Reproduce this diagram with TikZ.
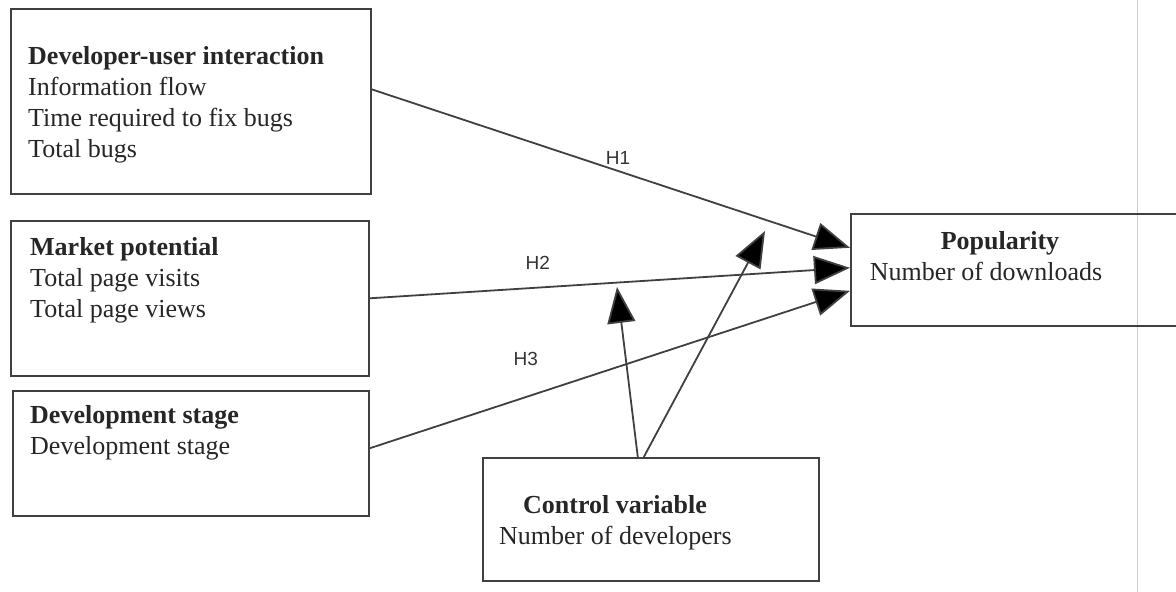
\documentclass[tikz,border=0pt]{standalone}
\usepackage{fontspec}
\setmainfont{Liberation Serif}
\setsansfont{Liberation Sans}
\usetikzlibrary{arrows.meta}
\tikzset{
    var-box/.style = {draw=black!75, line width=1.6pt, rectangle, anchor=north west, inner sep=0pt},
    var-text/.style = {anchor=north west, inner sep=0pt, align=left, text=black!85, font=\fontsize{26}{31}\selectfont},
    hyp-arrow/.style = {draw=black!75, line width=1.8pt, -{Triangle[length=36pt,width=28pt,fill=black]}},
    hyp-label/.style = {font=\sffamily\fontsize{19}{22}\selectfont, text=black!80, inner sep=0pt},
}

\begin{document}
\begin{tikzpicture}[x=1pt,y=-1pt]
\useasboundingbox (0,0) rectangle (1176,592);
\draw[black!20, line width=1pt] (1137,0) -- (1137,592);

\node[var-box, minimum width=360pt, minimum height=185pt] (dui) at (10,8) {};
\node[var-text] (dui-text) at (28,46) {\textbf{Developer-user interaction}\\Information flow\\Time required to fix bugs\\Total bugs};

\node[var-box, minimum width=358pt, minimum height=155pt] (mkt) at (10,220) {};
\node[var-text] (mkt-text) at (30,237) {\textbf{Market potential}\\Total page visits\\Total page views};

\node[var-box, minimum width=356pt, minimum height=125pt] (dev) at (12,390) {};
\node[var-text] (dev-text) at (30,405) {\textbf{Development stage}\\Development stage};

\node[var-box, minimum width=340pt, minimum height=112pt] (pop) at (850,213) {};
\node[var-text, align=center, anchor=north] (pop-text) at (986,231) {\hspace*{28pt}\textbf{Popularity}\\Number of downloads};

\node[var-box, minimum width=336pt, minimum height=123pt] (ctrl) at (482,457) {};
\node[var-text] (ctrl-text) at (499,495) {\hspace*{24pt}\textbf{Control variable}\\Number of developers};

% hypotheses
\draw[hyp-arrow] ([yshift=12pt]dui.east) -- ([yshift=22pt]pop.west)
    node[hyp-label, pos=0.515, above=6pt] {H1};
\draw[hyp-arrow] (mkt.east) -- ([yshift=2pt]pop.west)
    node[hyp-label, pos=0.35, above=17pt] {H2};
\draw[hyp-arrow] ([yshift=5pt]dev.east) -- ([yshift=-21pt]pop.west)
    node[hyp-label, pos=0.325, above=31pt] {H3};

% control variable
\coordinate (ctrl-h2) at (617,287);
\coordinate (ctrl-h1) at (765,231);
\draw[hyp-arrow] ([xshift=-13pt]ctrl.north) -- (ctrl-h2);
\draw[hyp-arrow] ([xshift=-7pt]ctrl.north) -- (ctrl-h1);
\end{tikzpicture}
\end{document}
